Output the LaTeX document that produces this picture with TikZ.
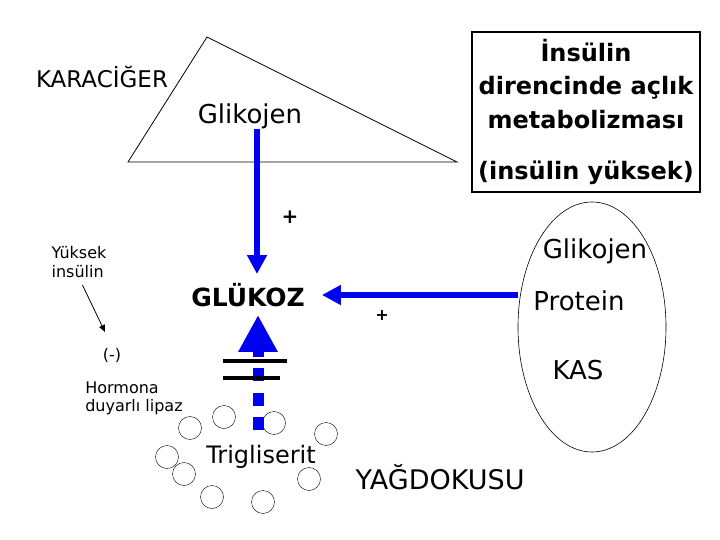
\documentclass[tikz,border=0pt]{standalone}
\usepackage{fontspec}
\setmainfont{DejaVu Sans}
\usetikzlibrary{arrows.meta,shapes.geometric}
\definecolor{flowblue}{HTML}{0000F0}
\tikzset{txt/.style={inner sep=0pt,font=\fontsize{26}{31}\selectfont},
  note/.style={inner sep=0pt,align=left,font=\fontsize{16}{19}\selectfont},
  flow/.style={draw=flowblue,line width=5.5pt,-{Triangle[length=19pt,width=19pt]}},
  upflow/.style={draw=flowblue,line width=11pt,dash pattern=on 13pt off 11.5pt,-{Triangle[length=37pt,width=37pt]}}}

\begin{document}
\begin{tikzpicture}[x=1pt,y=-1pt]
\useasboundingbox (0,0) rectangle (720,540);
\draw[line width=0.8pt] (128,162) -- (207,37) -- (457,162) -- cycle;
\node[txt,font=\fontsize{23}{28}\selectfont] (liver) at (102,77) {KARACİĞER};
\node[txt] (gly1) at (250,116) {Glikojen};
\node[draw,line width=1.5pt,minimum width=228pt,minimum height=160pt,inner sep=0pt,align=center,font=\bfseries\fontsize{24}{33.5}\selectfont] (state) at (586,112) {İnsülin\\direncinde açlık\\metabolizması\\[18pt](insülin yüksek)};
\node[txt,font=\bfseries\fontsize{25}{30}\selectfont] (glu) at (248,295) {GLÜKOZ};
\node[draw,ellipse,minimum width=148pt,minimum height=250pt,line width=0.6pt] (kas) at (592,327) {};
\node[txt] (gly2) at (595,251) {Glikojen}; \node[txt] (prot) at (579,301) {Protein}; \node[txt] (kastxt) at (578,370) {KAS};
\node[txt,font=\fontsize{27}{32}\selectfont] (fat) at (440,477) {YAĞDOKUSU};
\node[txt,font=\fontsize{24}{29}\selectfont] (trig) at (261,457) {Trigliserit};
\node[note] (yuk) at (79,262) {Yüksek\\insülin};
\node[note] (neg) at (112,355) {(-)};
\node[note,font=\fontsize{16}{18}\selectfont] (hsl) at (134,398) {Hormona\\duyarlı lipaz};
\node[inner sep=0pt,font=\bfseries\fontsize{20}{24}\selectfont] (plus1) at (290,217) {+};
\node[inner sep=0pt,font=\bfseries\fontsize{16}{19}\selectfont] (plus2) at (382,315) {+};
\draw (190,428) circle (11.5); \draw (224,417) circle (11.5); \draw (274,423) circle (11.5);
\draw (326,434) circle (11.5); \draw (167,457) circle (11.5); \draw (184,474) circle (11.5);
\draw (309,479) circle (11.5); \draw (212,497) circle (11.5); \draw (263,502) circle (11.5);
\draw[flow,shorten >=9pt] ([xshift=7pt]gly1.south) -- ([xshift=7pt]gly1.south |- glu.north);
\draw[flow,shorten >=17pt] (glu.east -| kas.west) -- (glu.east);
\draw[upflow,shorten <=15pt,shorten >=8pt] ([xshift=-3pt]trig.north) -- ([xshift=10pt]glu.south);
\draw[line width=3.5pt] (223,361) -- (287,361); \draw[line width=3.5pt] (223,378) -- (280,378);
\coordinate (hit) at (105,332);
\draw[line width=0.8pt,-{Triangle[length=7pt,width=6pt]},shorten <=8pt] (yuk.south) -- (hit);
\end{tikzpicture}
\end{document}
